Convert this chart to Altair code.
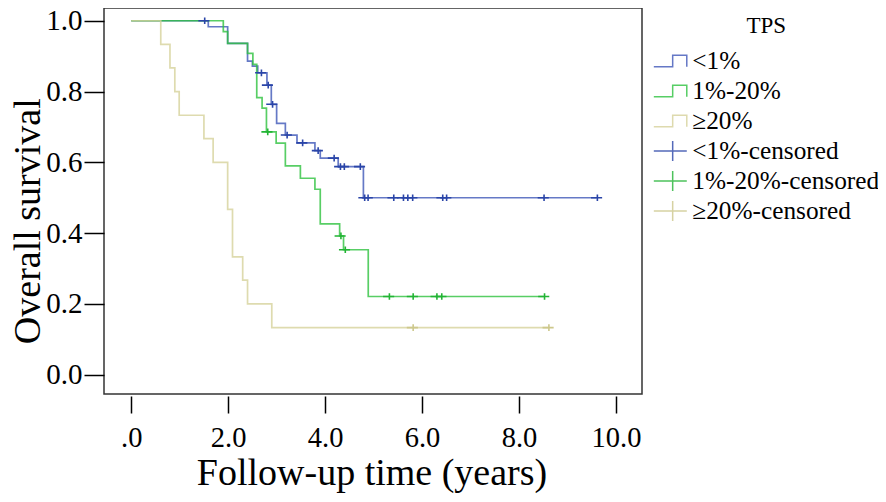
import altair as alt
import pandas as pd

# ---- data ----
groups = ["<1%", "1%-20%", "≥20%"]
cens_labels = ["<1%-censored", "1%-20%-censored", "≥20%-censored"]

# step curves (time in years, survival after the step)
blue_t = [0, 1.59, 1.99, 2.40, 2.50, 2.61, 2.80, 2.89, 3.00, 3.18, 3.42, 3.79, 3.90, 4.27, 4.79, 9.60]
blue_s = [1.0, 0.983, 0.936, 0.886, 0.872, 0.853, 0.818, 0.764, 0.710, 0.677, 0.655, 0.633, 0.612, 0.588, 0.500, 0.500]

green_t = [0, 1.90, 1.99, 2.40, 2.51, 2.59, 2.70, 2.79, 2.99, 3.18, 3.49, 3.79, 3.90, 4.30, 4.38, 4.89, 8.51]
green_s = [1.0, 0.969, 0.936, 0.908, 0.877, 0.783, 0.753, 0.686, 0.654, 0.590, 0.555, 0.524, 0.426, 0.392, 0.353, 0.221, 0.221]

yellow_t = [0, 0.61, 0.80, 0.90, 0.99, 1.50, 1.69, 1.99, 2.09, 2.30, 2.40, 2.90, 8.60]
yellow_s = [1.0, 0.933, 0.867, 0.800, 0.733, 0.667, 0.600, 0.467, 0.333, 0.267, 0.200, 0.133, 0.133]

# censored observations
blue_ct = [1.50, 2.67, 2.81, 2.90, 3.20, 3.52, 3.84, 4.17, 4.30, 4.38, 4.71, 4.80, 4.87, 5.40, 5.60, 5.69, 5.79, 6.41, 6.49, 8.50, 9.60]
blue_cs = [1.0, 0.853, 0.818, 0.764, 0.677, 0.655, 0.633, 0.612, 0.588, 0.588, 0.588, 0.5, 0.5, 0.5, 0.5, 0.5, 0.5, 0.5, 0.5, 0.5, 0.5]

green_ct = [2.80, 4.31, 4.40, 5.31, 5.80, 6.29, 6.39, 8.51]
green_cs = [0.686, 0.392, 0.353, 0.221, 0.221, 0.221, 0.221, 0.221]

yellow_ct = [5.80, 8.60]
yellow_cs = [0.133, 0.133]

x_ticks = [0, 2, 4, 6, 8, 10]
y_ticks = [0.0, 0.2, 0.4, 0.6, 0.8, 1.0]

# ---- tables ----
rows = []
for g, ts, ss in zip(groups, [blue_t, green_t, yellow_t], [blue_s, green_s, yellow_s]):
    for t, s in zip(ts, ss):
        rows.append({"key": g, "t": t, "s": s})
curves = pd.DataFrame(rows)

crows = []
for g, ts, ss in zip(cens_labels, [blue_ct, green_ct, yellow_ct], [blue_cs, green_cs, yellow_cs]):
    for t, s in zip(ts, ss):
        crows.append({"key": g, "t": t, "s": s})
cens = pd.DataFrame(crows)

keys = groups + cens_labels
colors = ["#3f57b8", "#2ec23f", "#d6d29b", "#2a45a8", "#22b434", "#cdc88c"]
step_path = "M-1.11,0.39L0.16,0.39L0.16,-0.39L1.11,-0.39L1.11,0.39"
cross_path = "M-1.11,0L1.11,0M0.16,-0.67L0.16,0.67"
shapes = [step_path] * 3 + [cross_path] * 3

FONT = "Liberation Serif"

xscale = alt.Scale(domain=[-0.561, 10.537], nice=False, zero=False)
yscale = alt.Scale(domain=[-0.0545, 1.036], nice=False, zero=False)
cscale = alt.Scale(domain=keys, range=colors)
sscale = alt.Scale(domain=keys, range=shapes)

legend = alt.Legend(
    title="TPS", orient="none", legendX=550.3, legendY=7,
    symbolSize=882, symbolStrokeWidth=1.5, symbolFillColor="transparent",
    labelFontSize=25.3, labelFont=FONT, labelColor="black", labelOffset=6, labelLimit=400,
    titleFont=FONT, titleFontSize=23, titleFontWeight="normal", titleColor="black",
    titleAnchor="middle", titleAlign="center", titlePadding=7,
    rowPadding=0, padding=0,
)

xaxis = alt.Axis(
    title="Follow-up time (years)", values=x_ticks,
    labelExpr="datum.value == 0 ? '.0' : format(datum.value, '.1f')",
    tickSize=17, offset=2, domain=False, grid=False, tickColor="black", tickWidth=1.5,
    labelFont=FONT, labelFontSize=28.5, labelColor="black", labelBaseline="alphabetic", labelPadding=33.8,
    titleFont=FONT, titleFontSize=38, titleFontWeight="normal", titleColor="black",
    titleBaseline="alphabetic", titleY=88, titleX=267.5,
)
yaxis = alt.Axis(
    title="Overall survival", values=y_ticks, format=".1f",
    tickSize=20, domain=False, grid=False, tickColor="black", tickWidth=1.5,
    labelFont=FONT, labelFontSize=29, labelColor="black", labelPadding=2,
    titleFont=FONT, titleFontSize=38, titleFontWeight="normal", titleColor="black",
    titleX=-57, titleY=212.7,
)

lines = alt.Chart(curves).mark_line(interpolate="step-after", strokeWidth=1.7, opacity=0.8).encode(
    x=alt.X("t:Q", scale=xscale, axis=xaxis),
    y=alt.Y("s:Q", scale=yscale, axis=yaxis),
    color=alt.Color("key:N", scale=cscale, legend=legend),
)

marks = alt.Chart(cens).mark_point(filled=False, size=100, strokeWidth=1.6, opacity=1).encode(
    x=alt.X("t:Q", scale=xscale),
    y=alt.Y("s:Q", scale=yscale),
    color=alt.Color("key:N", scale=cscale, legend=legend),
    shape=alt.Shape("key:N", scale=sscale, legend=legend),
)

chart = alt.layer(lines, marks).properties(
    width=538, height=386,
    autosize=alt.AutoSizeParams(type="none"),
    padding={"left": 96, "top": 0, "right": 236, "bottom": 100},
    background="white",
).configure(font=FONT).configure_view(stroke="#333333", strokeWidth=1.5)

chart.save("out.html", embed_options={"renderer": "svg", "actions": False})
